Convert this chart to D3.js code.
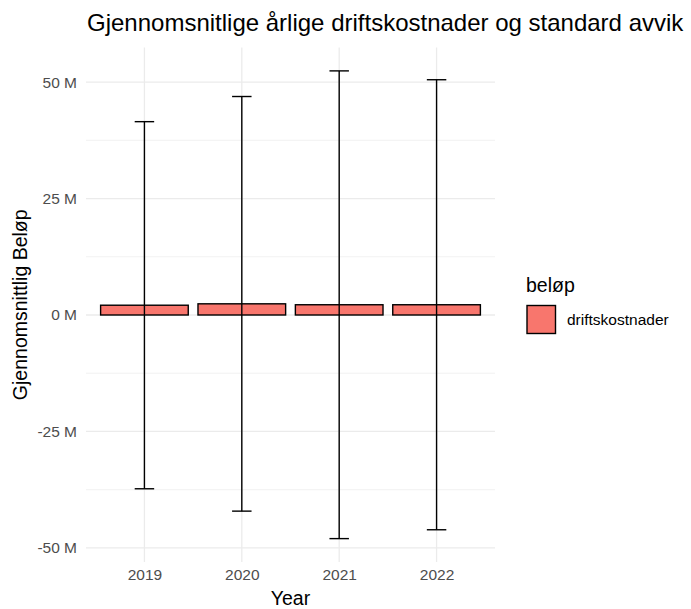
<!DOCTYPE html>
<html>
<head>
<meta charset="utf-8">
<script src="https://cdn.jsdelivr.net/npm/d3@7"></script>
<style>
  body { margin: 0; background: #fff; }
  text { font-family: "Liberation Sans", Arial, sans-serif; }
</style>
</head>
<body>
<div id="chart"></div>
<script>
// data (millions)
const years = ["2019", "2020", "2021", "2022"];
const means = [2.1, 2.4, 2.2, 2.2];
const sds = [39.4, 44.5, 50.2, 48.3];
const yTicks = [-50, -25, 0, 25, 50];
const yMinorTicks = [-37.5, -12.5, 12.5, 37.5];

const width = 691;
const height = 609;
const panel = { left: 86, right: 495, top: 47.5, bottom: 562 };

const svg = d3.select("#chart")
  .append("svg")
  .attr("width", width)
  .attr("height", height);

const lo = d3.min(means, (m, i) => m - sds[i]);
const hi = d3.max(means, (m, i) => m + sds[i]);
const pad = (hi - lo) * 0.05;

// discrete axis like ggplot: 0.6 units of expansion on each side
const x = d3.scalePoint().domain(years).range([panel.left, panel.right]).padding(0.6);
const barW = x.step() * 0.9;
const capW = x.step() * 0.2;
const y = d3.scaleLinear().domain([lo - pad, hi + pad]).range([panel.bottom, panel.top]);

// grid
svg.append("g").selectAll("line")
  .data(yMinorTicks)
  .join("line")
  .attr("x1", panel.left).attr("x2", panel.right)
  .attr("y1", (d) => y(d)).attr("y2", (d) => y(d))
  .attr("stroke", "#ebebeb").attr("stroke-width", 0.7);

svg.append("g").selectAll("line")
  .data(yTicks)
  .join("line")
  .attr("x1", panel.left).attr("x2", panel.right)
  .attr("y1", (d) => y(d)).attr("y2", (d) => y(d))
  .attr("stroke", "#ebebeb").attr("stroke-width", 1.3);

svg.append("g").selectAll("line")
  .data(years)
  .join("line")
  .attr("x1", (d) => x(d)).attr("x2", (d) => x(d))
  .attr("y1", panel.top).attr("y2", panel.bottom)
  .attr("stroke", "#ebebeb").attr("stroke-width", 1.3);

// axes (text only, like theme_minimal)
const yAxis = svg.append("g")
  .attr("transform", `translate(${panel.left},0)`)
  .call(d3.axisLeft(y).tickValues(yTicks).tickSize(0).tickPadding(9).tickFormat((d) => `${d} M`));
yAxis.select(".domain").remove();
yAxis.selectAll("text").attr("fill", "#4d4d4d").attr("font-size", 15.5);

const xAxis = svg.append("g")
  .attr("transform", `translate(0,${panel.bottom})`)
  .call(d3.axisBottom(x).tickSize(0).tickPadding(7));
xAxis.select(".domain").remove();
xAxis.selectAll("text").attr("fill", "#4d4d4d").attr("font-size", 15.5);

// bars
svg.append("g").selectAll("rect")
  .data(years)
  .join("rect")
  .attr("x", (d) => x(d) - barW / 2)
  .attr("width", barW)
  .attr("y", (d, i) => y(means[i]))
  .attr("height", (d, i) => y(0) - y(means[i]))
  .attr("fill", "#F8766D")
  .attr("stroke", "#000")
  .attr("stroke-width", 1.4);

// error bars
const eb = svg.append("g").attr("stroke", "#000").attr("stroke-width", 1.4);
years.forEach((yr, i) => {
  const cx = x(yr);
  const top = y(means[i] + sds[i]);
  const bot = y(means[i] - sds[i]);
  eb.append("line").attr("x1", cx).attr("x2", cx).attr("y1", top).attr("y2", bot);
  eb.append("line").attr("x1", cx - capW / 2).attr("x2", cx + capW / 2).attr("y1", top).attr("y2", top);
  eb.append("line").attr("x1", cx - capW / 2).attr("x2", cx + capW / 2).attr("y1", bot).attr("y2", bot);
});

// titles
svg.append("text")
  .attr("x", 87)
  .attr("y", 31)
  .attr("font-size", 24)
  .attr("fill", "#000")
  .text("Gjennomsnitlige årlige driftskostnader og standard avvik");

svg.append("text")
  .attr("x", (panel.left + panel.right) / 2)
  .attr("y", 605)
  .attr("text-anchor", "middle")
  .attr("font-size", 19.5)
  .text("Year");

svg.append("text")
  .attr("transform", `translate(27,${(panel.top + panel.bottom) / 2}) rotate(-90)`)
  .attr("text-anchor", "middle")
  .attr("font-size", 19.5)
  .text("Gjennomsnittlig Beløp");

// legend
const legend = svg.append("g").attr("transform", "translate(526,0)");
legend.append("text").attr("x", 0).attr("y", 292).attr("font-size", 19.5).text("beløp");
legend.append("rect")
  .attr("x", 1).attr("y", 305.5).attr("width", 28.5).attr("height", 28)
  .attr("fill", "#F8766D").attr("stroke", "#000").attr("stroke-width", 1.4);
legend.append("text").attr("x", 41).attr("y", 325).attr("font-size", 15.5).text("driftskostnader");
</script>
</body>
</html>
